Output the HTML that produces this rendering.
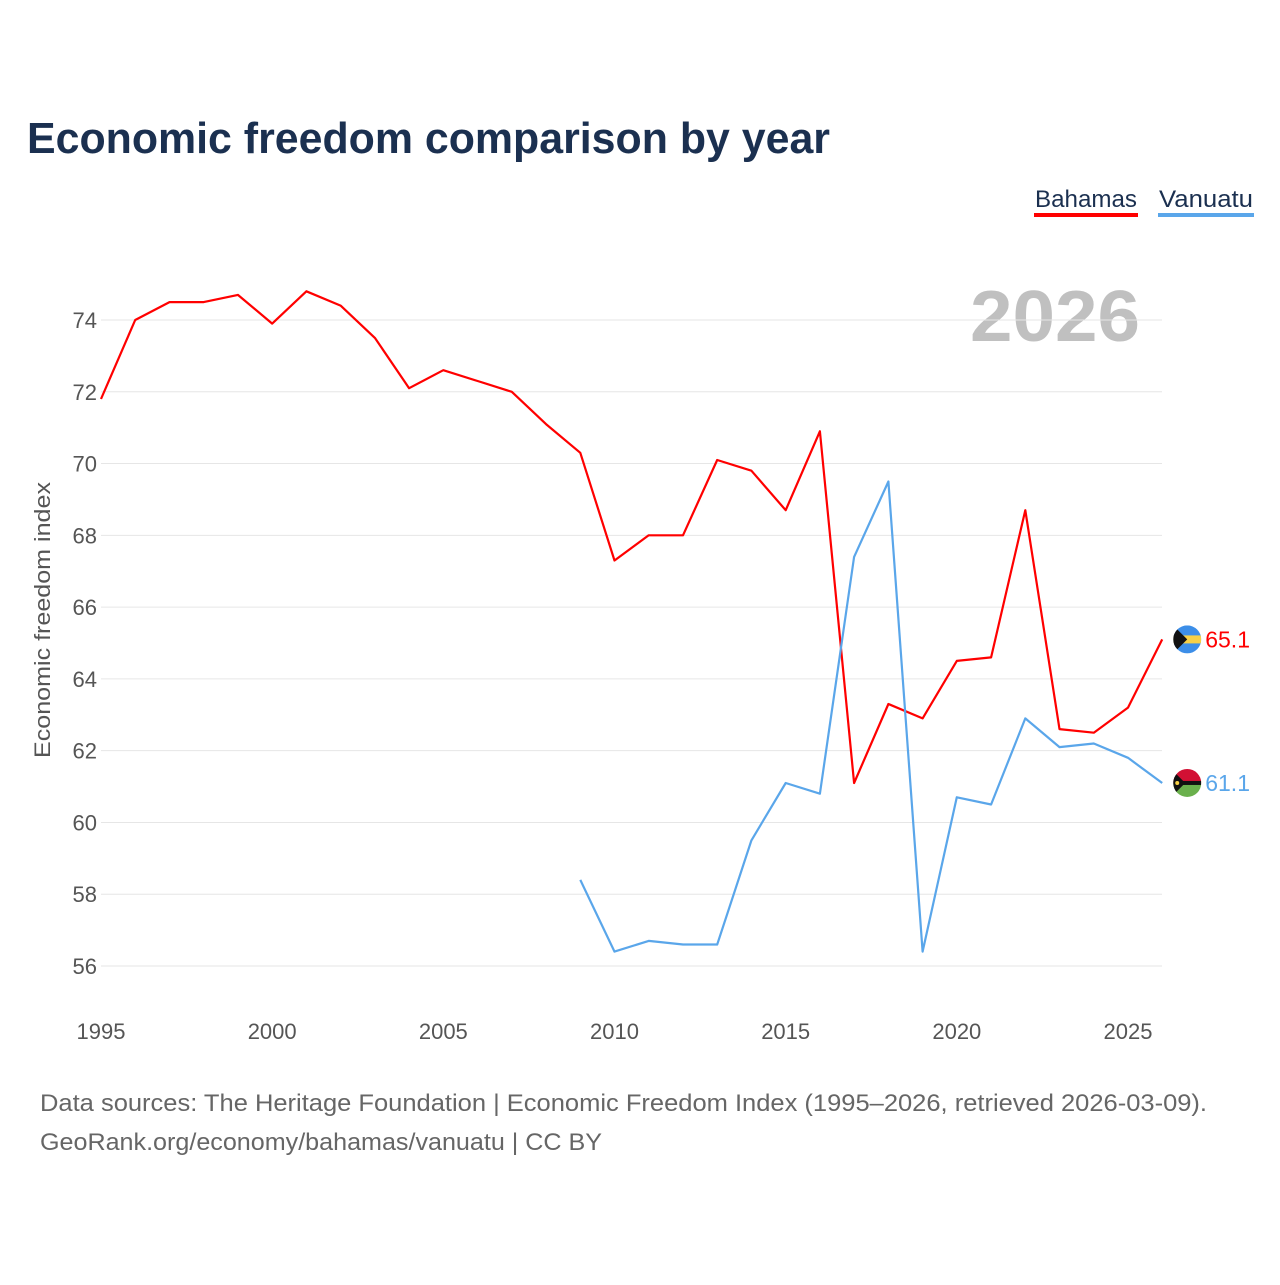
<!DOCTYPE html>
<html><head><meta charset="utf-8"><style>
body{margin:0;background:#fff;font-family:"Liberation Sans",sans-serif;}
svg text{font-family:"Liberation Sans",sans-serif;}
</style></head><body>
<svg id="chart" width="1280" height="1280" viewBox="0 0 1280 1280">
<text x="27" y="153" font-size="44" font-weight="bold" fill="#1b3050" textLength="803" lengthAdjust="spacingAndGlyphs">Economic freedom comparison by year</text>
<g><text x="1035" y="207" font-size="24" fill="#1b3050" textLength="102" lengthAdjust="spacingAndGlyphs">Bahamas</text><rect x="1034" y="213" width="104" height="4" fill="#ff0000"/></g>
<g><text x="1159" y="207" font-size="24" fill="#1b3050" textLength="94" lengthAdjust="spacingAndGlyphs">Vanuatu</text><rect x="1158" y="213" width="96" height="4" fill="#5aa6ea"/></g>
<text x="1140" y="341" font-size="72" font-weight="bold" fill="#c0c0c0" text-anchor="end" textLength="170" lengthAdjust="spacingAndGlyphs">2026</text>
<g id="grid"></g><g id="lines"></g>
<text transform="translate(50,620) rotate(-90)" font-size="22" fill="#555" text-anchor="middle" textLength="276" lengthAdjust="spacingAndGlyphs">Economic freedom index</text>
<text x="40" y="1111" font-size="24" fill="#666" textLength="1167" lengthAdjust="spacingAndGlyphs">Data sources: The Heritage Foundation | Economic Freedom Index (1995–2026, retrieved 2026-03-09).</text>
<text x="40" y="1150" font-size="24" fill="#666" textLength="562" lengthAdjust="spacingAndGlyphs">GeoRank.org/economy/bahamas/vanuatu | CC BY</text>
</svg>
<script>
const yearsB=[1995,1996,1997,1998,1999,2000,2001,2002,2003,2004,2005,2006,2007,2008,2009,2010,2011,2012,2013,2014,2015,2016,2017,2018,2019,2020,2021,2022,2023,2024,2025,2026];
const bahamas=[71.8,74.0,74.5,74.5,74.7,73.9,74.8,74.4,73.5,72.1,72.6,72.3,72.0,71.1,70.3,67.3,68.0,68.0,70.1,69.8,68.7,70.9,61.1,63.3,62.9,64.5,64.6,68.7,62.6,62.5,63.2,65.1];
const yearsV=[2009,2010,2011,2012,2013,2014,2015,2016,2017,2018,2019,2020,2021,2022,2023,2024,2025,2026];
const vanuatu=[58.4,56.4,56.7,56.6,56.6,59.5,61.1,60.8,67.4,69.5,56.4,60.7,60.5,62.9,62.1,62.2,61.8,61.1];
const yTicks=[56,58,60,62,64,66,68,70,72,74];
const xTicks=[1995,2000,2005,2010,2015,2020,2025];
const NS='http://www.w3.org/2000/svg';
const xs=y=>101+(y-1995)*(1027/30);
const ys=v=>320+(74-v)*(646/18);
function mk(t,a,p){const e=document.createElementNS(NS,t);for(const k in a)e.setAttribute(k,a[k]);p.appendChild(e);return e;}
const g=document.getElementById('grid'),L=document.getElementById('lines');
yTicks.forEach(v=>{
 const l=mk('line',{x1:101,x2:1162,y1:ys(v),y2:ys(v),stroke:'#e6e6e6','stroke-width':1},g);
 
 
 const t=mk('text',{x:97,y:ys(v)+8,'font-size':22,fill:'#555','text-anchor':'end'},g);t.textContent=v;
 
 
});
xTicks.forEach(y=>{
 const t=mk('text',{x:xs(y),y:1039,'font-size':22,fill:'#555','text-anchor':'middle'},g);t.textContent=y;
 
 
});
function series(yrs,vals,col,name,flag){
 const d=yrs.map((y,i)=>(i?'L':'M')+xs(y).toFixed(1)+','+ys(vals[i]).toFixed(1)).join('');
 const p=mk('path',{d:d,fill:'none',stroke:col,'stroke-width':2.2,'stroke-linejoin':'round'},L);
 
 
 const lx=xs(yrs[yrs.length-1]),ly=ys(vals[vals.length-1]);
 const c=mk('g',{},L);
 
 
 c.innerHTML=flag(lx+25,ly);
 const t=mk('text',{x:lx+43,y:ly+8,'font-size':23,fill:col},L);t.textContent=vals[vals.length-1].toFixed(1);
 
 
}
series(yearsB,bahamas,'#ff0000','bahamas',(x,y)=>`<clipPath id="cb"><circle cx="${x}" cy="${y}" r="14"/></clipPath><g clip-path="url(#cb)"><rect x="${x-14}" y="${y-14}" width="28" height="28" fill="#3c8ee8"/><rect x="${x-14}" y="${y-4}" width="28" height="8" fill="#f7d046"/><polygon points="${x-14},${y-14} ${x},${y} ${x-14},${y+14}" fill="#111"/></g>`);
series(yearsV,vanuatu,'#5aa6ea','vanuatu',(x,y)=>`<clipPath id="cv"><circle cx="${x}" cy="${y}" r="14"/></clipPath><g clip-path="url(#cv)"><rect x="${x-14}" y="${y-14}" width="28" height="14" fill="#d21034"/><rect x="${x-14}" y="${y}" width="28" height="14" fill="#6ab04c"/><rect x="${x-14}" y="${y-2}" width="28" height="4" fill="#111"/><polygon points="${x-14},${y-12} ${x-2},${y} ${x-14},${y+12}" fill="#111"/><circle cx="${x-10}" cy="${y}" r="2" fill="#f7d046"/></g>`);
</script>
</body></html>
